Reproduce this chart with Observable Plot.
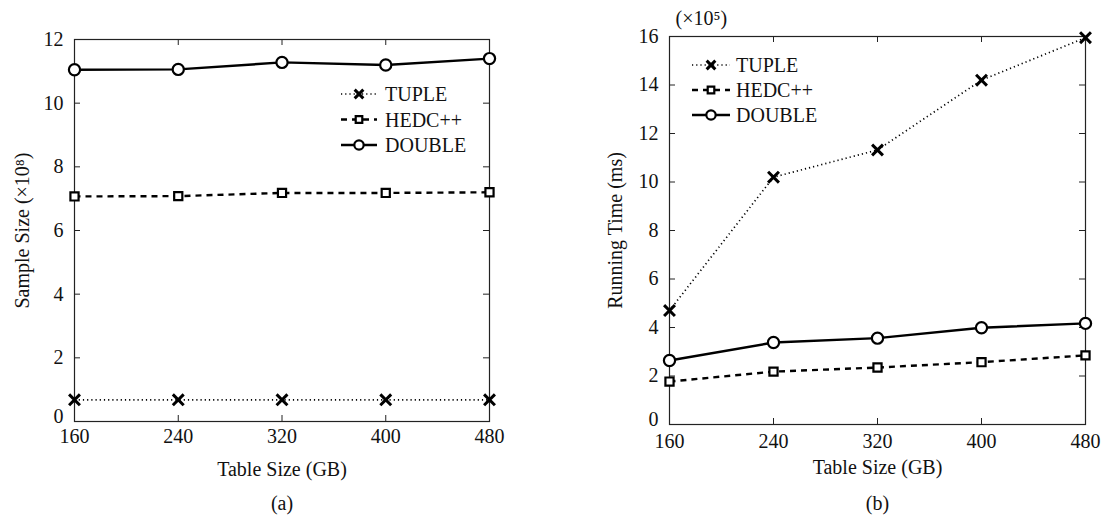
<!DOCTYPE html>
<html>
<head>
<meta charset="utf-8">
<script src="https://cdn.jsdelivr.net/npm/d3@7"></script>
<script src="https://cdn.jsdelivr.net/npm/@observablehq/plot@0.6"></script>
<style>
  html, body { margin: 0; padding: 0; background: #fff; }
  #wrap { position: relative; width: 1105px; height: 519px; }
  .panel { position: absolute; top: 0; }
  .panel svg, .panel svg text { font-family: 'Liberation Serif', 'Tinos', 'DejaVu Serif', serif !important; }
</style>
</head>
<body>
<div id="wrap">
  <div class="panel" id="pa" style="left:0px"></div>
  <div class="panel" id="pb" style="left:552px"></div>
</div>
<script>
// Table sizes (GB) on the x axis
const tableSizes = [160, 240, 320, 400, 480];

// (a) sample size, ×10^8
const sampleTuple  = [0.68, 0.68, 0.68, 0.68, 0.68];
const sampleHedc   = [7.07, 7.08, 7.18, 7.18, 7.20];
const sampleDouble = [11.05, 11.06, 11.28, 11.20, 11.40];

// (b) running time, ×10^5 ms
const timeTuple  = [4.70, 10.20, 11.32, 14.20, 15.95];
const timeHedc   = [1.77, 2.18, 2.35, 2.57, 2.85];
const timeDouble = [2.64, 3.38, 3.56, 3.99, 4.17];

const seriesNames = ["TUPLE", "HEDC++", "DOUBLE"];
const yTicksA = [0, 2, 4, 6, 8, 10, 12];
const yTicksB = [0, 2, 4, 6, 8, 10, 12, 14, 16];

const serif = "'Liberation Serif', 'Tinos', 'DejaVu Serif', serif";

const styles = {
  "TUPLE":  {dash: "1.2,3", width: 1.7, symbol: "times",  r: 5.0, dotWidth: 3.0, fill: "none"},
  "HEDC++": {dash: "6,5",   width: 2.4, symbol: "square", r: 4.6, dotWidth: 2.2, fill: "white"},
  "DOUBLE": {dash: null,    width: 2.4, symbol: "circle", r: 5.6, dotWidth: 2.2, fill: "white"}
};

function rows(values, name) {
  return tableSizes.map((x, i) => ({x, y: values[i], series: name}));
}

function panel({el, width, height, margin, yDomain, yTicks, series, yLabel, yLabelDx,
                caption, xLabelDy, captionDy, tickPadX, topNote, legend}) {
  const innerW = width - margin.left - margin.right;
  const innerH = height - margin.top - margin.bottom;
  const marks = [
    Plot.frame({stroke: "#222", strokeWidth: 1.2}),
    // inward ticks on all four sides
    Plot.tickY(yTicks, {y: d => d, insetRight: innerW - 6, stroke: "#222"}),
    Plot.tickY(yTicks, {y: d => d, insetLeft: innerW - 6, stroke: "#222"}),
    Plot.tickX(tableSizes, {x: d => d, insetTop: innerH - 6, stroke: "#222"}),
    Plot.tickX(tableSizes, {x: d => d, insetBottom: innerH - 6, stroke: "#222"}),
    Plot.axisY(yTicks.filter(d => d > 0), {tickSize: 0, tickPadding: 11, fontSize: 20, fill: "#111", label: null}),
    // the zero label sits a little higher, clear of the first x label
    Plot.axisY([0], {tickSize: 0, tickPadding: 11, dy: -5, fontSize: 20, fill: "#111", label: null}),
    Plot.axisX(tableSizes, {tickSize: 0, tickPadding: tickPadX, fontSize: 20, fill: "#111", label: null}),
    Plot.text([yLabel], {frameAnchor: "left", rotate: -90, dx: yLabelDx, textAnchor: "middle",
      fontSize: 20, fill: "#111", text: d => d}),
    Plot.text(["Table Size (GB)"], {frameAnchor: "bottom", dy: xLabelDy, fontSize: 20, fill: "#111", text: d => d}),
    Plot.text([caption], {frameAnchor: "bottom", dy: captionDy, fontSize: 20, fill: "#111", text: d => d})
  ];
  if (topNote) {
    marks.push(Plot.text([topNote], {frameAnchor: "top-left", dx: 6, dy: -26, textAnchor: "start",
      fontSize: 20, fill: "#111", text: d => d}));
  }
  for (const s of series) {
    const st = styles[s.name];
    const data = rows(s.values, s.name);
    marks.push(Plot.line(data, {x: "x", y: "y", stroke: "#000", strokeWidth: st.width,
      strokeDasharray: st.dash, strokeLinecap: "butt"}));
    marks.push(Plot.dot(data, {x: "x", y: "y", symbol: st.symbol, r: st.r, stroke: "#000",
      strokeWidth: st.dotWidth, fill: st.fill}));
  }
  const svg = Plot.plot({
    width, height,
    marginTop: margin.top, marginBottom: margin.bottom,
    marginLeft: margin.left, marginRight: margin.right,
    style: {fontFamily: serif, fontSize: "20px", background: "white"},
    x: {domain: [160, 480]},
    y: {domain: yDomain},
    marks
  });

  // legend: sample line, marker and name for each series
  const g = d3.select(svg).append("g").attr("text-anchor", "start");
  seriesNames.forEach((name, i) => {
    const st = styles[name];
    const cy = legend.y + i * legend.step;
    g.append("line")
      .attr("x1", legend.x1).attr("x2", legend.x2)
      .attr("y1", cy).attr("y2", cy)
      .attr("stroke", "#000").attr("stroke-width", st.width)
      .attr("stroke-dasharray", st.dash);
    const mx = (legend.x1 + legend.x2) / 2;
    const sym = st.symbol === "times" ? d3.symbolTimes : st.symbol === "square" ? d3.symbolSquare : d3.symbolCircle;
    g.append("path")
      .attr("transform", `translate(${mx},${cy})`)
      .attr("d", d3.symbol(sym, Math.PI * st.r * st.r * (st.symbol === "circle" ? 0.7 : 0.65))())
      .attr("fill", st.fill).attr("stroke", "#000").attr("stroke-width", st.dotWidth);
    g.append("text")
      .attr("x", legend.tx).attr("y", cy).attr("dy", "0.35em")
      .attr("text-anchor", "start")
      .attr("font-size", 20).attr("fill", "#111")
      .text(name);
  });
  document.getElementById(el).appendChild(svg);
}

panel({
  el: "pa", width: 552, height: 519,
  margin: {top: 39, bottom: 98, left: 74, right: 63},
  yDomain: [0, 12], yTicks: yTicksA,
  series: [
    {name: "TUPLE", values: sampleTuple},
    {name: "HEDC++", values: sampleHedc},
    {name: "DOUBLE", values: sampleDouble}
  ],
  yLabel: "Sample Size (×10⁸)", yLabelDx: -52,
  caption: "(a)", xLabelDy: 54, captionDy: 88, tickPadX: 7,
  legend: {x1: 341, x2: 377, tx: 385, y: 94, step: 25.5}
});

panel({
  el: "pb", width: 553, height: 519,
  margin: {top: 36, bottom: 95, left: 117, right: 20},
  yDomain: [0, 16], yTicks: yTicksB,
  series: [
    {name: "TUPLE", values: timeTuple},
    {name: "HEDC++", values: timeHedc},
    {name: "DOUBLE", values: timeDouble}
  ],
  yLabel: "Running Time (ms)", yLabelDx: -54,
  caption: "(b)", xLabelDy: 49, captionDy: 85, tickPadX: 9,
  topNote: "(×10⁵)",
  legend: {x1: 140, x2: 178, tx: 184, y: 65, step: 25}
});
</script>
</body>
</html>
